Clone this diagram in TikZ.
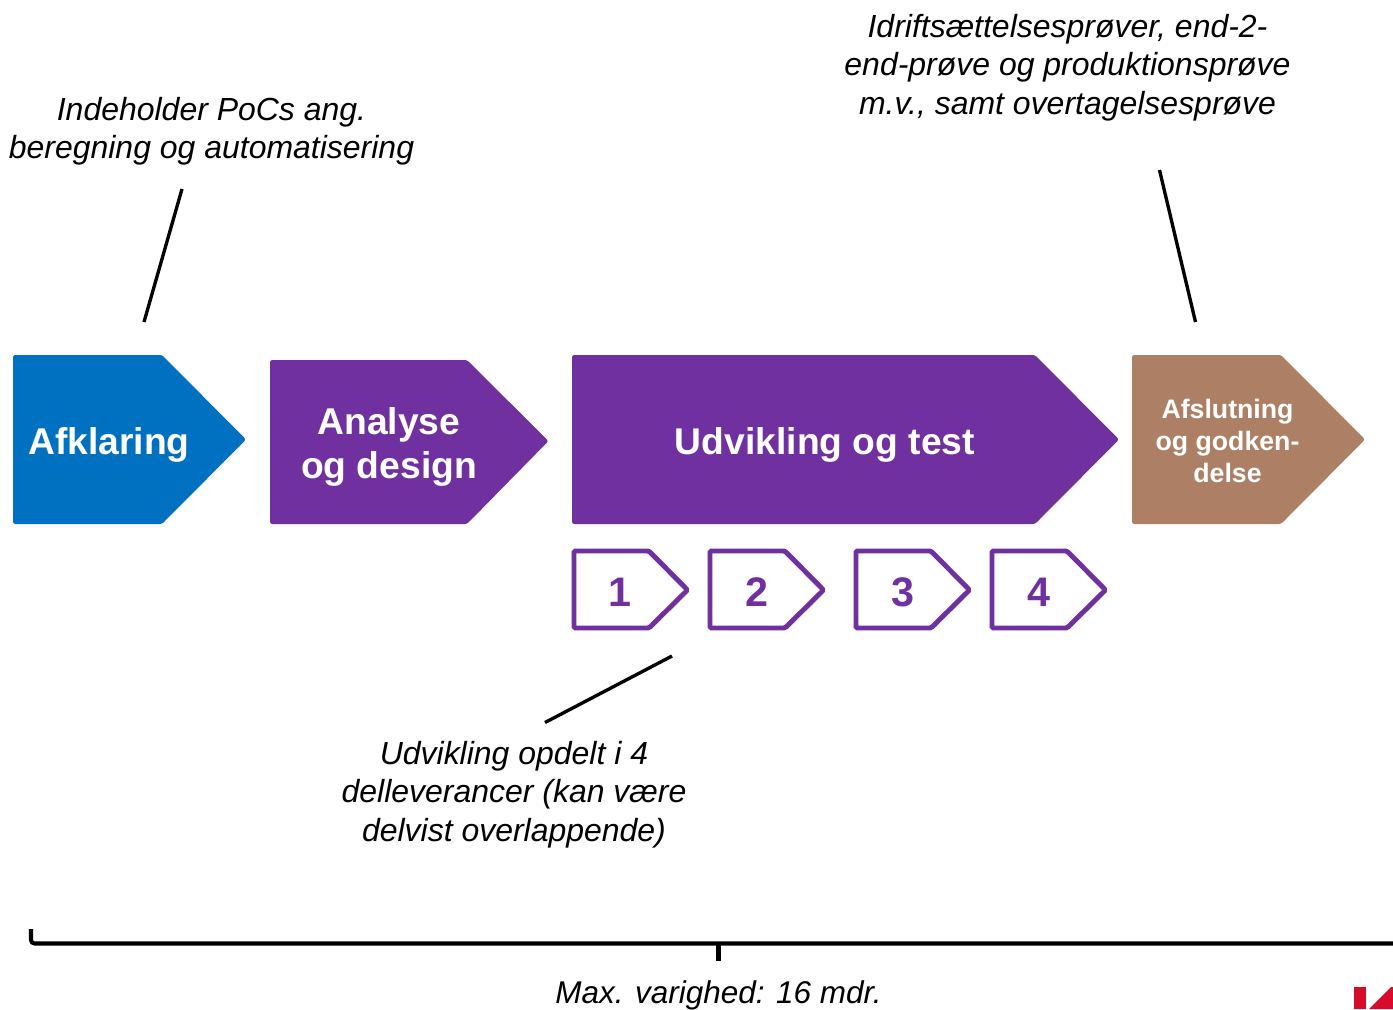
\documentclass[tikz,border=0pt]{standalone}
\usepackage{fontspec}
\setmainfont{Liberation Sans}
\definecolor{afklblue}{HTML}{0070C0}
\definecolor{phasepurple}{HTML}{7030A0}
\definecolor{afslbrown}{HTML}{AD7F64}
\definecolor{logored}{HTML}{D90B2A}
\tikzset{
	phase/.style={rounded corners=1.3pt, draw=none},
	step box/.style={draw=phasepurple, line width=2.8pt, rounded corners=0.8pt, fill=white},
	phase text/.style={text=white, font=\fontsize{21.2}{25.3}\selectfont\bfseries, align=center},
	step text/.style={text=phasepurple, font=\fontsize{23.5}{27}\selectfont\bfseries},
	note/.style={font=\fontsize{18.2}{21.9}\selectfont\itshape, align=center},
	callout/.style={line width=1.9pt},
	brace/.style={line width=2.3pt}
}
\begin{document}
\begin{tikzpicture}[x=0.02cm, y=-0.02cm]
	\useasboundingbox (0,0) rectangle (1393,1009);
	% phases
	\fill [phase, afklblue] (13,355) -- (162,355) -- (246,439.5) -- (162,524) -- (13,524) -- cycle;
	\fill [phase, phasepurple] (270,360) -- (467,360) -- (548.5,441) -- (467,524) -- (270,524) -- cycle;
	\fill [phase, phasepurple] (572,355) -- (1035,355) -- (1119,439.5) -- (1035,524) -- (572,524) -- cycle;
	\fill [phase, afslbrown] (1132,355) -- (1281,355) -- (1365,439.5) -- (1281,524) -- (1132,524) -- cycle;
	\node [phase text] (afklaring) at (109,444.5) {Afklaring};
	\node [phase text] (analyse) at (389,447) {Analyse\\og design};
	\node [phase text] (udvikling) at (825,444.5) {Udvikling og test};
	\node [phase text, font=\fontsize{15.2}{18.2}\selectfont\bfseries] (afslutning) at (1227.5,441) {Afslutning\\og godken-\\delse};
	% delleverancer
	\foreach \n/\x/\tx in {1/574/619.5, 2/710/757, 3/856/903, 4/992/1039} {
		\draw [step box] (\x,551) -- (\x+75,551) -- (\x+113.5,590) -- (\x+75,628) -- (\x,628) -- cycle;
		\node [step text] (step\n) at (\tx,592) {\n};
	}
	% notes
	\node [note] (poc) at (211.5,131) {Indeholder PoCs ang.\\beregning og automatisering};
	\node [note] (idrift) at (1067.5,67.5) {Idriftsættelsesprøver, end-2-\\end-prøve og produktionsprøve\\m.v., samt overtagelsesprøve};
	\node [note] (opdelt) at (514,794.5) {Udvikling opdelt i 4\\delleverancer (kan være\\delvist overlappende)};
	\node [note, font=\fontsize{17.9}{21.9}\selectfont\itshape] (varighed) at (718.5,995) {Max. varighed: 16 mdr.};
	% callouts
	\coordinate (pocA) at (182,189);
	\coordinate (pocB) at (144,322);
	\coordinate (idriftA) at (1159.5,170);
	\coordinate (idriftB) at (1195.5,322);
	\coordinate (opdeltA) at (672,656);
	\coordinate (opdeltB) at (545,722.5);
	\draw [callout] (pocA) -- (pocB);
	\draw [callout] (idriftA) -- (idriftB);
	\draw [callout] (opdeltA) -- (opdeltB);
	% brace
	\coordinate (braceL) at (31,929);
	\coordinate (braceR) at (1393,943.5);
	\coordinate (braceM) at (718.5,943.5);
	\coordinate (braceT) at (718.5,960.5);
	\draw [brace, rounded corners=2pt] (braceL) -- (31,943.5) -- (braceR);
	\draw [brace] (braceM) -- (braceT);
	% logo, cut off by the page
	\fill [logored] (1354,987) -- (1366,987) -- (1366,1009) -- (1354,1009) -- cycle;
	\fill [logored] (1369,1009) -- (1391,987) -- (1393,987) -- (1393,1009) -- cycle;
\end{tikzpicture}
\end{document}
